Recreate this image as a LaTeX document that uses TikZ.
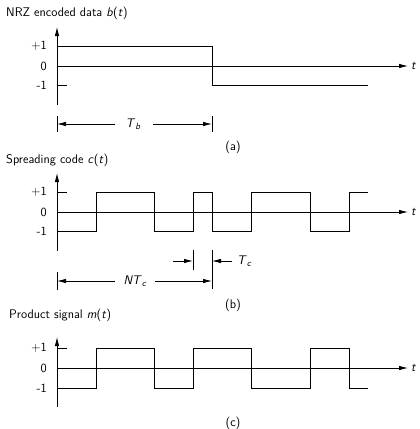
\documentclass[tikz,border=0pt]{standalone}
\usetikzlibrary{arrows.meta}
\newcommand{\subsc}[1]{\raisebox{-0.4ex}{\fontsize{9}{10}\selectfont\textit{#1}}}
\begin{document}
\begin{tikzpicture}[x=1pt,y=-1pt,
  every node/.style={font=\sffamily\fontsize{12.5}{14}\selectfont, inner sep=1pt},
  axis/.style={line width=0.8pt, -{Latex[length=9pt,width=4.5pt]}},
  sig/.style={line width=0.8pt, black},
  thinln/.style={line width=0.8pt},
  dim/.style={line width=0.8pt, -{Latex[length=9pt,width=4.5pt]}},
  ticklab/.style={anchor=east},
  title/.style={anchor=west},
  caplab/.style={anchor=center}]
\useasboundingbox (0,0) rectangle (420,429);

% ---------- panel (a) ----------
\node[title] (ta) at (5,13) {NRZ encoded data \textit{b}(\textit{t})};
\coordinate (a0) at (57,105);
\coordinate (aTop) at (57,27);
\coordinate (aL) at (57,66);
\coordinate (aR) at (408,66);
\draw[axis] (a0) -- (aTop);
\draw[axis] (aL) -- (aR);
\node[anchor=west] (at) at (410,66) {\textit{t}};
\node[ticklab] (ap1) at (48,46) {+1};
\node[ticklab] (a00) at (48,66) {0};
\node[ticklab] (am1) at (48,85) {-1};
\coordinate (atk1) at (57,85);
\coordinate (atk2) at (67,85);
\draw[thinln] (atk1) -- (atk2);
\coordinate (as0) at (57,46);
\coordinate (as1) at (212,46);
\coordinate (as2) at (212,85);
\coordinate (as3) at (368,85);
\draw[sig] (as0) -- (as1) -- (as2) -- (as3);
% Tb dimension
\coordinate (tbL1) at (57,116);
\coordinate (tbL2) at (57,132);
\coordinate (tbR1) at (212,116);
\coordinate (tbR2) at (212,132);
\draw[thinln] (tbL1) -- (tbL2);
\draw[thinln] (tbR1) -- (tbR2);
\node (tb) at (133,124) {\textit{T}\subsc{b}};
\coordinate (tbA) at (57,124);
\coordinate (tbB) at (212,124);
\coordinate (tbAa) at (115,124);
\coordinate (tbBb) at (153,124);
\draw[dim] (tbAa) -- (tbA);
\draw[dim] (tbBb) -- (tbB);
\node[caplab] (la) at (233,147) {(a)};

% ---------- panel (b) ----------
\node[title] (tbt) at (5,160) {Spreading code \textit{c}(\textit{t})};
\coordinate (b0) at (57,251);
\coordinate (bTop) at (57,173);
\coordinate (bL) at (57,212);
\coordinate (bR) at (408,212);
\draw[axis] (b0) -- (bTop);
\draw[axis] (bL) -- (bR);
\node[anchor=west] (bt) at (410,212) {\textit{t}};
\node[ticklab] (bp1) at (48,192) {+1};
\node[ticklab] (b00) at (48,212) {0};
\node[ticklab] (bm1) at (48,231) {-1};
\coordinate (btk1) at (57,192);
\coordinate (btk2) at (67,192);
\draw[thinln] (btk1) -- (btk2);
\draw[sig] (57,231) coordinate (bs0) -- (96,231) -- (96,192) -- (154,192) -- (154,231)
  -- (193,231) -- (193,192) -- (212,192) -- (212,231) -- (251,231) -- (251,192)
  -- (310,192) -- (310,231) -- (349,231) -- (349,192) -- (368,192) coordinate (bs1);
% Tc dimension
\coordinate (tc1) at (193,250);
\coordinate (tc2) at (193,270);
\coordinate (tc3) at (212,250);
\coordinate (tc4) at (212,289);
\draw[thinln] (tc1) -- (tc2);
\draw[thinln] (tc3) -- (tc4);
\coordinate (tcA) at (173,261);
\coordinate (tcB) at (193,261);
\coordinate (tcC) at (232,261);
\coordinate (tcD) at (212,261);
\draw[dim] (tcA) -- (tcB);
\draw[dim] (tcC) -- (tcD);
\node[anchor=west] (tcl) at (236,261) {\textit{T}\subsc{c}};
% NTc dimension
\coordinate (nL1) at (57,272);
\coordinate (nL2) at (57,290);
\draw[thinln] (nL1) -- (nL2);
\node (ntc) at (135,281) {\textit{NT}\subsc{c}};
\coordinate (nA) at (57,281);
\coordinate (nB) at (212,281);
\coordinate (nAa) at (115,281);
\coordinate (nBb) at (155,281);
\draw[dim] (nAa) -- (nA);
\draw[dim] (nBb) -- (nB);
\node[caplab] (lb) at (233,305) {(b)};

% ---------- panel (c) ----------
\node[title] (tct) at (8,315) {Product signal \textit{m}(\textit{t})};
\coordinate (c0) at (57,407);
\coordinate (cTop) at (57,337);
\coordinate (cL) at (57,368);
\coordinate (cR) at (408,368);
\draw[axis] (c0) -- (cTop);
\draw[axis] (cL) -- (cR);
\node[anchor=west] (ct) at (410,368) {\textit{t}};
\node[ticklab] (cp1) at (48,348) {+1};
\node[ticklab] (c00) at (48,368) {0};
\node[ticklab] (cm1) at (48,388) {-1};
\coordinate (ctk1) at (57,348);
\coordinate (ctk2) at (67,348);
\draw[thinln] (ctk1) -- (ctk2);
\draw[sig] (57,388) coordinate (cs0) -- (96,388) -- (96,348) -- (154,348) -- (154,388)
  -- (193,388) -- (193,348) -- (251,348) -- (251,388) -- (310,388) -- (310,348)
  -- (349,348) -- (349,388) -- (368,388) coordinate (cs1);
\node[caplab] (lc) at (233,423) {(c)};
\end{tikzpicture}
\end{document}
